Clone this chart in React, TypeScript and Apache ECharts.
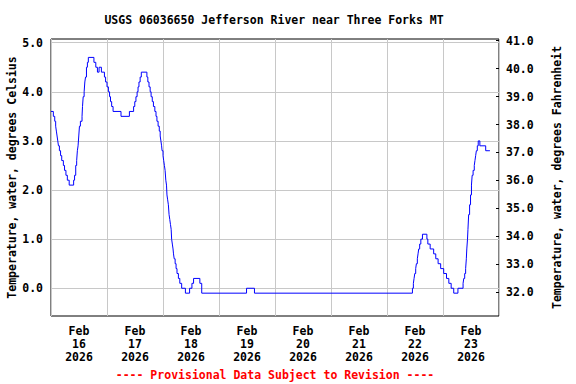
import React, { useEffect, useRef } from "react";
import * as echarts from "echarts";

const TITLE = "USGS 06036650 Jefferson River near Three Forks MT";
const FOOTER = "---- Provisional Data Subject to Revision ----";
const LEFT_NAME = "Temperature, water, degrees Celsius";
const RIGHT_NAME = "Temperature, water, degrees Fahrenheit";

const dayLabels = [
  "Feb\n16\n2026",
  "Feb\n17\n2026",
  "Feb\n18\n2026",
  "Feb\n19\n2026",
  "Feb\n20\n2026",
  "Feb\n21\n2026",
  "Feb\n22\n2026",
  "Feb\n23\n2026",
];

const celsiusTicks = [0, 1, 2, 3, 4, 5];
const fahrenheitTicks = [32, 33, 34, 35, 36, 37, 38, 39, 40, 41];

// hours after Feb 16 2026 00:00 at which the reading changes
const hours = [
  0, 1.0, 1.6, 2.0, 2.3, 2.6, 2.9, 3.2, 3.6, 4.1, 4.6, 5.3, 5.8, 6.4, 7.0, 7.8,
  9.7, 10.1, 10.6, 11.0, 11.3, 11.6, 11.9, 12.2, 12.6, 13.3, 13.5, 13.8, 14.2,
  14.5, 14.8, 15.2, 15.6, 16.0, 18.4, 19.2, 19.9, 20.6, 21.6, 22.9, 23.4, 24.0,
  24.6, 25.1, 25.5, 26.0, 26.6, 30.0, 33.6, 35.4, 35.9, 36.4, 36.9, 37.3, 37.7,
  38.2, 38.7, 41.1, 41.5, 42.0, 42.5, 42.9, 43.4, 43.9, 44.5, 45.0, 45.4, 45.9,
  46.4, 46.8, 47.1, 47.4, 47.6, 48.0, 48.3, 48.6, 48.9, 49.2, 49.5, 49.7, 50.0,
  50.3, 50.6, 50.9, 51.2, 51.5, 51.7, 52.0, 52.3, 52.5, 52.8, 53.2, 53.6, 54.0,
  54.6, 55.2, 56.0, 57.6, 59.4, 60.4, 61.1, 63.8, 64.6, 83.8, 87.2, 154.9,
  155.3, 155.6, 155.9, 156.3, 156.6, 157.0, 157.3, 157.6, 158.0, 158.5, 159.2,
  161.1, 161.5, 162.5, 164.0, 164.9, 165.9, 167.0, 168.3, 169.5, 170.5, 171.5,
  172.6, 174.4, 176.6, 176.9, 177.3, 177.7, 178.0, 178.2, 178.5, 178.7, 179.0,
  179.4, 179.8, 180.2, 180.5, 180.9, 181.4, 181.7, 182.0, 182.3, 182.7, 183.1,
  183.8, 186.3, 187.3, 188.1,
];

const tempC = [
  3.6, 3.5, 3.4, 3.3, 3.2, 3.1, 3.0, 2.9, 2.8, 2.7, 2.6, 2.5, 2.4, 2.3, 2.2, 2.1,
  2.2, 2.3, 2.5, 2.6, 2.8, 2.9, 3.1, 3.3, 3.4, 3.5, 3.7, 3.9, 4.0,
  4.2, 4.3, 4.5, 4.6, 4.7, 4.6, 4.5, 4.4, 4.5, 4.4, 4.3, 4.2, 4.1,
  4.0, 3.9, 3.8, 3.7, 3.6, 3.5, 3.6, 3.7, 3.8, 3.9, 4.0, 4.1, 4.2,
  4.3, 4.4, 4.3, 4.2, 4.1, 4.0, 3.9, 3.8, 3.7, 3.6, 3.5, 3.4, 3.3,
  3.2, 3.1, 3.0, 2.9, 2.8, 2.7, 2.6, 2.5, 2.4, 2.2, 2.1, 1.9, 1.8,
  1.7, 1.5, 1.4, 1.3, 1.2, 1.0, 0.9, 0.8, 0.7, 0.6, 0.5, 0.4, 0.3,
  0.2, 0.1, 0.0, -0.1, 0.0, 0.1, 0.2, 0.1, -0.1, 0.0, -0.1, 0.0,
  0.1, 0.2, 0.3, 0.4, 0.5, 0.6, 0.7, 0.8, 0.9, 1.0, 1.1,
  1.0, 0.9, 0.8, 0.7, 0.6, 0.5, 0.4, 0.3, 0.2, 0.1, 0.0,
  -0.1, 0.0, 0.1, 0.2, 0.3, 0.4, 0.6, 0.8, 1.0, 1.2,
  1.5, 1.7, 1.9, 2.1, 2.3, 2.4, 2.5, 2.6, 2.7, 2.8, 2.9,
  3.0, 2.9, 2.8, 2.8,
];

const FONT = "DejaVu Sans Mono";

export default function App() {
  const ref = useRef<HTMLDivElement>(null);

  useEffect(() => {
    if (!ref.current) return;
    const chart = echarts.init(ref.current, null, { renderer: "svg" });
    const textBase = {
      fontFamily: FONT,
      fontWeight: "bold" as const,
      fontSize: 11.5,
      color: "#000",
    };
    chart.setOption({
      animation: false,
      backgroundColor: "#fff",
      grid: {
        left: 51,
        right: 77,
        top: 39,
        bottom: 68,
        show: true,
        borderColor: "#000",
        borderWidth: 1,
        backgroundColor: "transparent",
        containLabel: false,
        outerBoundsMode: "none",
      },
      graphic: [
        {
          type: "text",
          x: 274,
          y: 20,
          style: {
            text: TITLE,
            font: `bold 11.5px "${FONT}"`,
            fill: "#000",
            textAlign: "center",
            textVerticalAlign: "middle",
          },
        },
        {
          type: "text",
          x: 275,
          y: 375,
          style: {
            text: FOOTER,
            font: `bold 11.5px "${FONT}"`,
            fill: "#ff0000",
            textAlign: "center",
            textVerticalAlign: "middle",
          },
        },
      ],
      xAxis: [
        {
          type: "value",
          min: 0,
          max: 192,
          interval: 24,
          axisLine: { show: false },
          axisTick: { show: false },
          axisLabel: { show: false },
          splitLine: { show: true, lineStyle: { color: "#c8c8c8", width: 1 } },
        },
        {
          type: "category",
          position: "bottom",
          data: dayLabels,
          boundaryGap: true,
          axisLine: { show: false },
          axisTick: { show: false },
          splitLine: { show: false },
          axisLabel: { ...textBase, lineHeight: 13, margin: 8, interval: 0 },
        },
      ],
      yAxis: [
        {
          type: "value",
          position: "left",
          min: -0.565,
          max: 5.075,
          axisLine: { show: false },
          axisTick: { show: false, customValues: celsiusTicks },
          axisLabel: {
            ...textBase,
            customValues: celsiusTicks,
            margin: 8,
            formatter: (v: number) => v.toFixed(1),
          },
          splitLine: { show: true, lineStyle: { color: "#c8c8c8", width: 1 } },
          name: LEFT_NAME,
          nameLocation: "middle",
          nameRotate: 90,
          nameGap: 33.5,
          nameMoveOverlap: false,
          nameTextStyle: { ...textBase },
        },
        {
          type: "value",
          position: "right",
          min: 31.15,
          max: 41.06,
          axisLine: { show: false },
          axisTick: {
            show: true,
            inside: true,
            length: 3,
            customValues: fahrenheitTicks,
            lineStyle: { color: "#000", width: 1 },
          },
          axisLabel: {
            ...textBase,
            customValues: fahrenheitTicks,
            margin: 7,
            formatter: (v: number) => v.toFixed(1),
          },
          splitLine: { show: false },
          name: RIGHT_NAME,
          nameLocation: "middle",
          nameRotate: 90,
          nameGap: 52,
          nameMoveOverlap: false,
          nameTextStyle: { ...textBase },
        },
      ],
      series: [
        {
          type: "line",
          xAxisIndex: 0,
          yAxisIndex: 0,
          data: hours.map((h, i) => [h, tempC[i]]),
          step: "end",
          symbol: "none",
          lineStyle: { color: "#0000ff", width: 1 },
          silent: true,
        },
      ],
    });
    return () => chart.dispose();
  }, []);

  return <div ref={ref} style={{ width: 576, height: 384, position: "absolute", left: 0, top: 0 }} />;
}
